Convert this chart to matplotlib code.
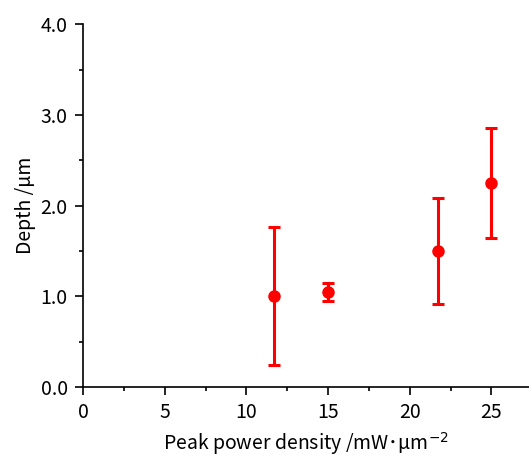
import matplotlib
matplotlib.use('Agg')
import matplotlib.pyplot as plt
from matplotlib.ticker import MultipleLocator

# Data
power_density = [11.7, 15.0, 21.7, 25.0]
depth = [1.0, 1.05, 1.5, 2.25]
err_low = [0.76, 0.10, 0.58, 0.61]
err_high = [0.76, 0.10, 0.58, 0.61]

plt.rcParams['font.family'] = ['Noto Sans CJK JP', 'DejaVu Sans']
plt.rcParams['font.size'] = 14

fig = plt.figure(figsize=(5.29, 4.57), dpi=100)
ax = fig.add_axes([0.157, 0.153, 0.843, 0.794])

# Plot the points with error bars
ax.errorbar(power_density, depth, yerr=[err_low, err_high], fmt='o',
            color='#ff0000', ecolor='#ff0000', markersize=8,
            elinewidth=2.2, capsize=4, capthick=2.2, clip_on=False)

ax.set_xlim(0, 27.3)
ax.set_ylim(0, 4.0)

ax.xaxis.set_major_locator(MultipleLocator(5))
ax.xaxis.set_minor_locator(MultipleLocator(2.5))
ax.yaxis.set_major_locator(MultipleLocator(1.0))
ax.yaxis.set_minor_locator(MultipleLocator(0.5))
ax.yaxis.set_major_formatter(matplotlib.ticker.FormatStrFormatter('%.1f'))

ax.tick_params(which='major', direction='out', length=6, width=1.2, labelsize=14, pad=5)
ax.tick_params(which='minor', direction='out', length=3, width=1.2)

# Only the left and bottom axes are drawn
ax.spines['top'].set_visible(False)
ax.spines['right'].set_visible(False)
ax.spines['left'].set_linewidth(1.2)
ax.spines['bottom'].set_linewidth(1.2)

ax.set_xlabel('Peak power density /mW\uff65μm$^{-2}$', fontsize=14, labelpad=5)
ax.set_ylabel('Depth /μm', fontsize=14, labelpad=3)

fig.savefig('out.png', dpi=100)
